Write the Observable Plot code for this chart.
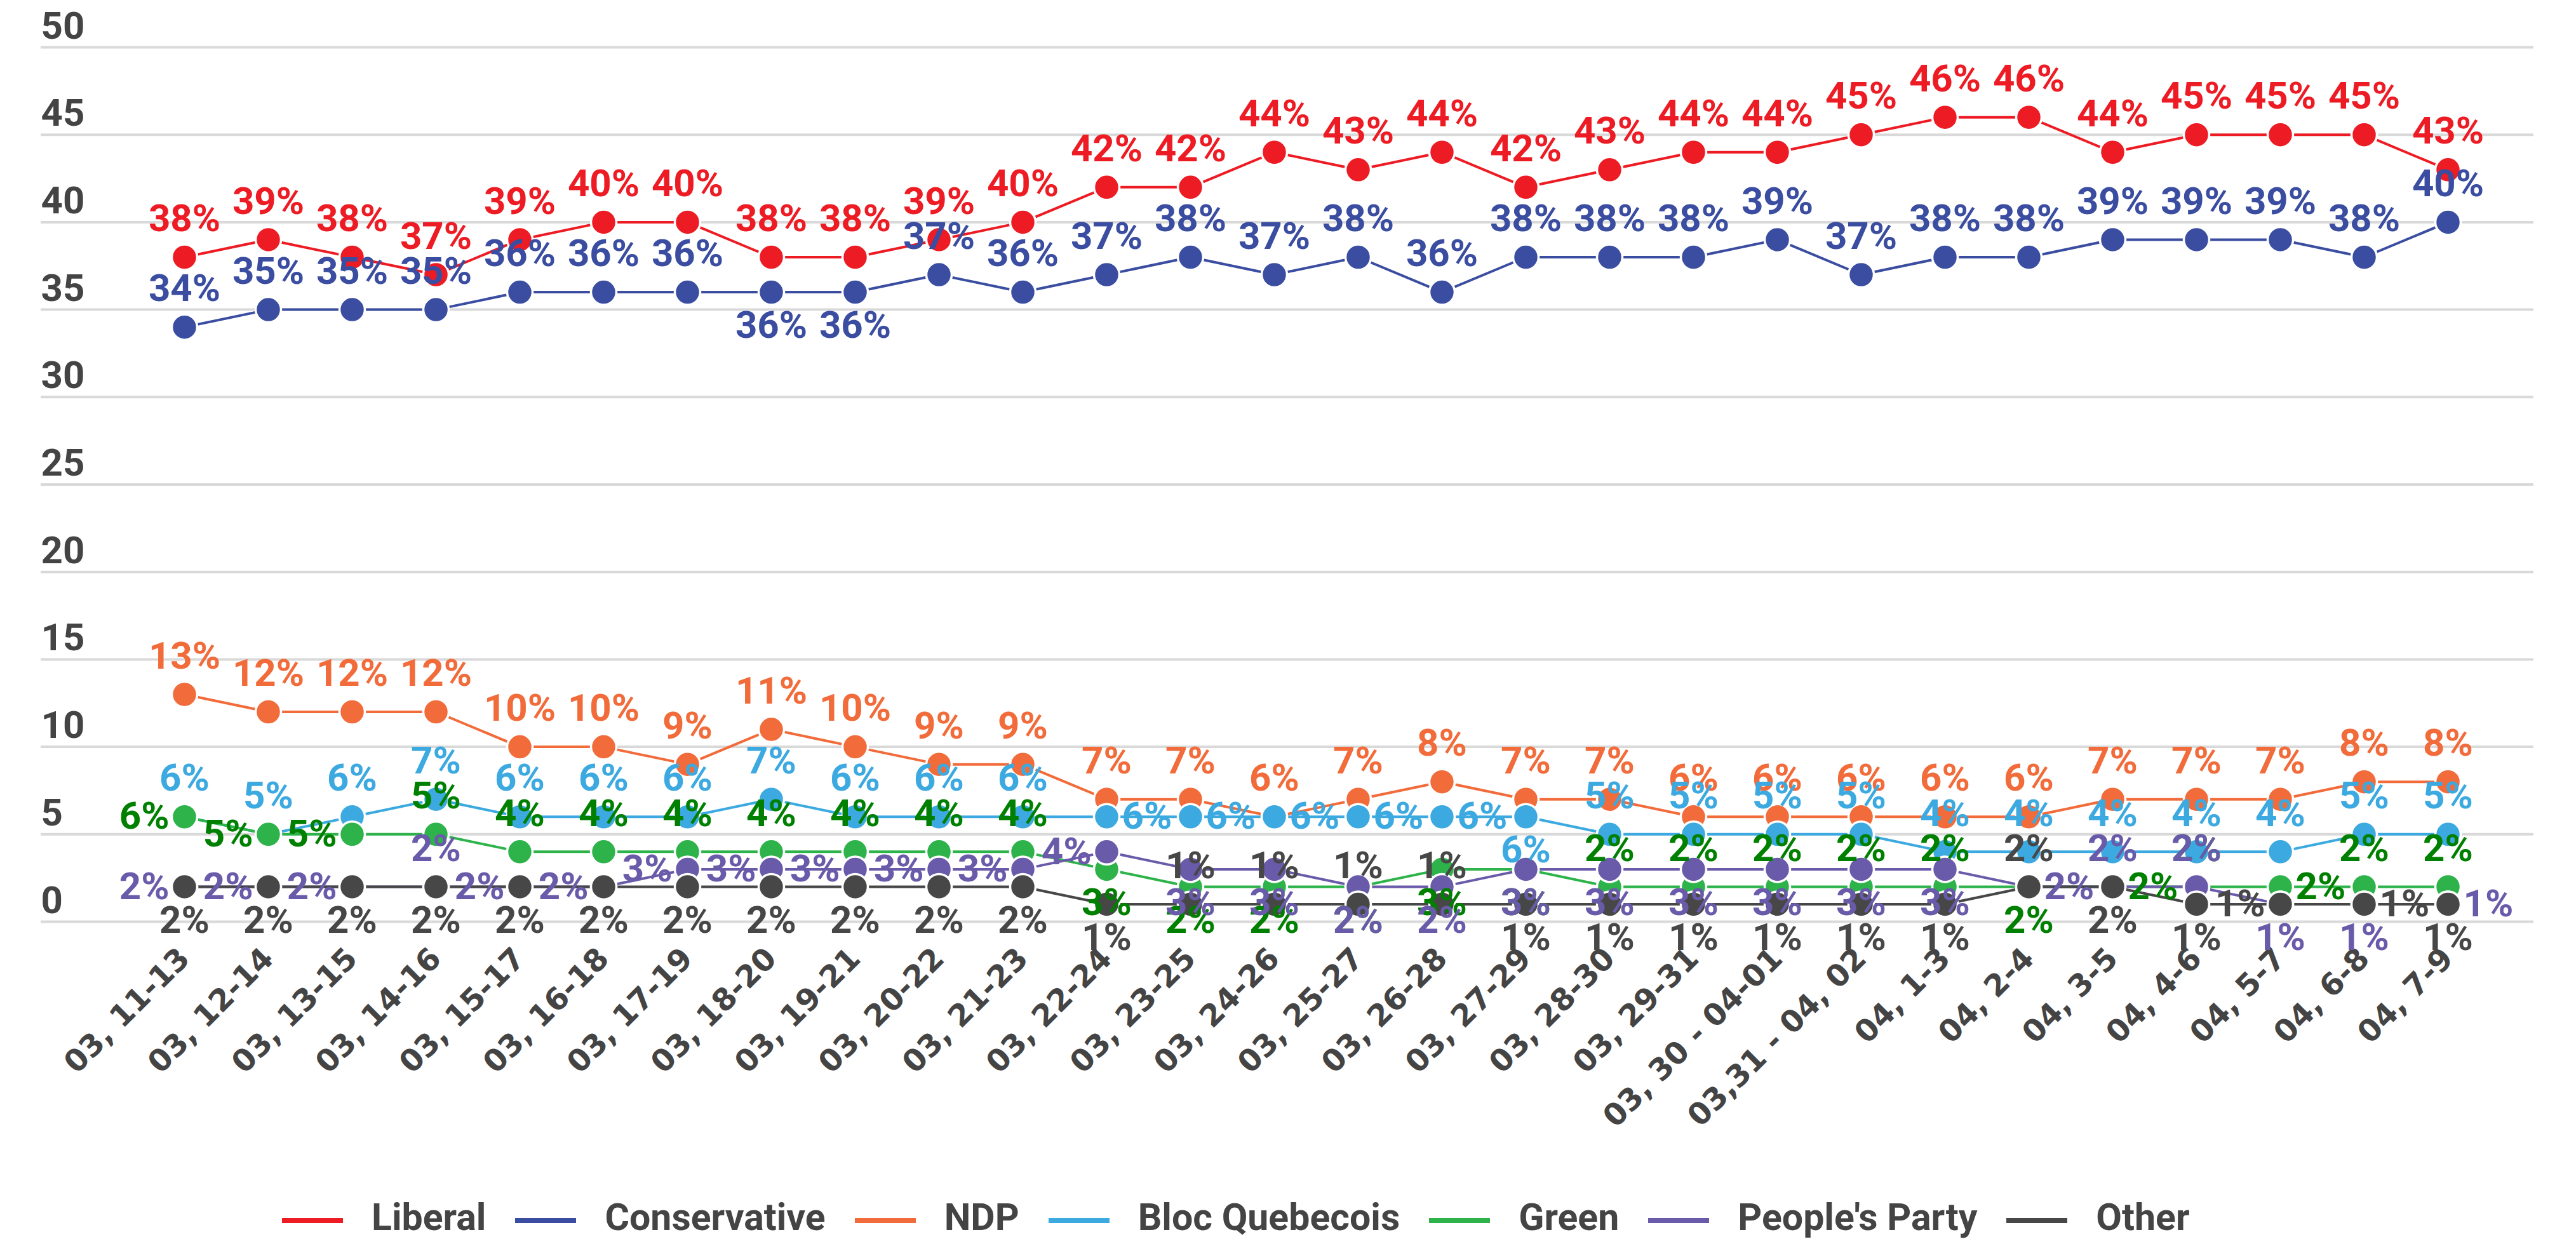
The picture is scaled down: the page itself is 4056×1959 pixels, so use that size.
<!DOCTYPE html>
<html><head><meta charset="utf-8">
<script src="https://cdn.jsdelivr.net/npm/d3@7"></script>
<script src="https://cdn.jsdelivr.net/npm/@observablehq/plot@0.6"></script>
<style>
html,body{margin:0;padding:0;background:#fff;width:4056px;height:1959px;overflow:hidden;}
#chart svg{display:block;}
#legend{display:flex;align-items:center;margin-top:48px;padding-left:444px;height:58px;line-height:58px;font-family:Roboto,sans-serif;font-weight:700;font-size:59px;color:#444;white-space:nowrap;}
.item{display:flex;align-items:center;margin-right:46px;}
.sw{width:96px;height:8px;margin-right:45px;position:relative;top:5px;}
</style></head><body><div id="chart"></div><div id="legend"></div>
<script>
const dates = ["03, 11-13","03, 12-14","03, 13-15","03, 14-16","03, 15-17","03, 16-18","03, 17-19","03, 18-20","03, 19-21","03, 20-22","03, 21-23","03, 22-24","03, 23-25","03, 24-26","03, 25-27","03, 26-28","03, 27-29","03, 28-30","03, 29-31","03, 30 - 04-01","03,31 - 04, 02","04, 1-3","04, 2-4","04, 3-5","04, 4-6","04, 5-7","04, 6-8","04, 7-9"];
const parties = ["Liberal","Conservative","NDP","Bloc Quebecois","Green","People's Party","Other"];
const colors = ["#ED1C24","#3A4DA0","#F26B3A","#3CA9E0","#2DB34A","#6A5BAA","#474747"];
const yTicks = [0,5,10,15,20,25,30,35,40,45,50];

const liberal      = [38,39,38,37,39,40,40,38,38,39,40,42,42,44,43,44,42,43,44,44,45,46,46,44,45,45,45,43];
const conservative = [34,35,35,35,36,36,36,36,36,37,36,37,38,37,38,36,38,38,38,39,37,38,38,39,39,39,38,40];
const ndp          = [13,12,12,12,10,10,9,11,10,9,9,7,7,6,7,8,7,7,6,6,6,6,6,7,7,7,8,8];
const bloc         = [6,5,6,7,6,6,6,7,6,6,6,6,6,6,6,6,6,5,5,5,5,4,4,4,4,4,5,5];
const green        = [6,5,5,5,4,4,4,4,4,4,4,3,2,2,2,3,3,2,2,2,2,2,2,2,2,2,2,2];
const peoples      = [2,2,2,2,2,2,3,3,3,3,3,4,3,3,2,2,3,3,3,3,3,3,2,2,2,1,1,1];
const other        = [2,2,2,2,2,2,2,2,2,2,2,1,1,1,1,1,1,1,1,1,1,1,2,2,1,1,1,1];

// label placement codes: a = above, b = below, l = left, r = right
const placeLiberal      = "aaaaaaaaaaaaaaaaaaaaaaaaaaaa";
const placeConservative = "aaaaaaabbaaaaaaaaaaaaaaaaaaa";
const placeNdp          = "aaaaaaaaaaaaaaaaaaaaaaaaaaaa";
const placeBloc         = "aaaaaaaaaaarrrrrbaaaaaaaaaaa";
const placeGreen        = "lllaaaaaaaabbbbbbaaaaabraraa";
const placePeoples      = "lllallllllllbbbbbbbbbbraabbr";
const placeOther        = "bbbbbbbbbbbbaaaabbbbbbabblrb";

const series = [liberal, conservative, ndp, bloc, green, peoples, other];
const places = [placeLiberal, placeConservative, placeNdp, placeBloc, placeGreen, placePeoples, placeOther];

const rows = parties.flatMap((p, i) => series[i].map((v, j) => ({party: p, date: dates[j], value: v, pos: places[i][j]})));

const W = 4056, H = 1840;
const labelFont = {fontFamily: "Roboto, sans-serif", fontWeight: 700, fontSize: 60};
const offsets = {
  a: {dy: -60, textAnchor: "middle"},
  b: {dy: 53, textAnchor: "middle"},
  l: {dx: -24, textAnchor: "end"},
  r: {dx: 24, textAnchor: "start"}
};
const labelMarks = [];
for (const p of parties) {
  for (const k of ["a","b","l","r"]) {
    const sub = rows.filter(d => d.party === p && d.pos === k);
    if (!sub.length) continue;
    labelMarks.push(Plot.text(sub, {x: "date", y: "value", text: d => `${d.value}%`, fill: "party", lineAnchor: "middle", ...labelFont, ...offsets[k]}));
  }
}

const chart = Plot.plot({
  width: W, height: H,
  marginTop: 74, marginBottom: H - 1451, marginLeft: 64, marginRight: 67,
  x: {type: "point", domain: dates, range: [223, 3920], axis: null},
  y: {domain: [0, 50], axis: null},
  color: {domain: parties, range: colors},
  style: {background: "#fff"},
  marks: [
    Plot.ruleY(yTicks, {stroke: "#d9d9d9", strokeWidth: 4}),
    Plot.text(yTicks, {y: d => d, text: d => `${d}`, frameAnchor: "left", textAnchor: "start", lineAnchor: "bottom", dy: -14, fill: "#444", fontFamily: "Roboto, sans-serif", fontWeight: 700, fontSize: 60}),
    Plot.text(dates, {x: d => d, text: d => d, frameAnchor: "bottom", rotate: -45, textAnchor: "end", lineAnchor: "middle", dy: 50, dx: 0, fill: "#444", fontFamily: "DejaVu Sans, sans-serif", fontWeight: 700, fontSize: 48}),
    Plot.line(rows, {x: "date", y: "value", z: "party", stroke: "party", strokeWidth: 4}),
    Plot.dot(rows, {x: "date", y: "value", fill: "party", stroke: "white", strokeWidth: 3.5, r: 20}),
    ...labelMarks
  ]
});
document.getElementById("chart").appendChild(chart);

const legend = document.getElementById("legend");
parties.forEach((p, i) => {
  const item = document.createElement("div");
  item.className = "item";
  const sw = document.createElement("span");
  sw.className = "sw";
  sw.style.background = colors[i];
  const t = document.createElement("span");
  t.textContent = p;
  item.appendChild(sw); item.appendChild(t);
  legend.appendChild(item);
});
</script></body></html>
